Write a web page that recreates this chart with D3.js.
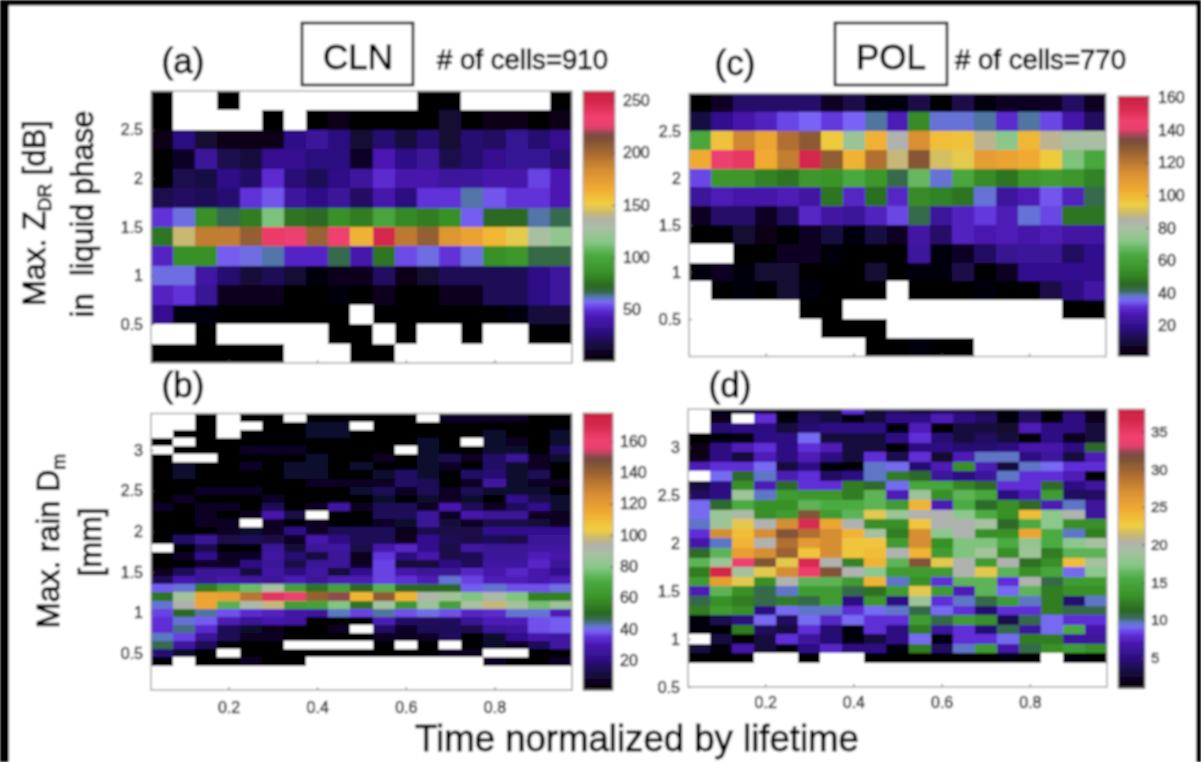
<!DOCTYPE html>
<html lang="en">
<head>
<meta charset="UTF-8">
<title>CLN / POL contoured frequency by lifetime</title>
<script src="https://cdn.jsdelivr.net/npm/d3@7"></script>
<style>
   html, body { margin: 0; padding: 0; background: #fff; }
   svg { display: block; }
   text { font-family: "Liberation Sans", Arial, sans-serif; white-space: pre; }
</style>
</head>
<body>
<svg id="fig" width="1201" height="762" viewBox="0 0 1201 762"></svg>
<script>
const _ = null;   // empty bin, stays white

const timeTicks = [0.2, 0.4, 0.6, 0.8];
const zdrTicks = [0.5, 1, 1.5, 2, 2.5];
const dmTicks = [0.5, 1, 1.5, 2, 2.5, 3];

const barTicksA = [50, 100, 150, 200, 250];
const barTicksB = [20, 40, 60, 80, 100, 120, 140, 160];
const barTicksC = [20, 40, 60, 80, 100, 120, 140, 160];
const barTicksD = [5, 10, 15, 20, 25, 30, 35];

// colour bar as fraction of its range
const cmapStops = [0, .06, .11, .158, .19, .214, .232, .25, .275, .33, .39, .44, .49, .516, .547, .578, .64, .70, .763, .82, .837, .868, .90, .948, 1];
const cmapColors = ["#000000", "#1a0a45", "#2e0f85", "#4a18b0", "#6030d8", "#7a68f8", "#5a78c0", "#3a6a5a", "#2a6a20", "#3a9428", "#4aaa40", "#88c888", "#a8c0a0", "#b0b0b0", "#c8b870", "#f0d040", "#f0a830", "#d89030", "#ac6c30", "#7a5038", "#804a48", "#e84070", "#f04070", "#d82a50", "#c82040"];

// rows run from the top of each panel downwards, 19 time bins each
const zdrCln = [
   [1,_,_,1,_,_,_,_,_,_,_,_,1,1,_,_,_,_,1],
   [1,_,_,_,_,1,_,1,5,1,1,1,1,12,1,5,5,1,5],
   [6,28,12,5,5,5,30,35,28,12,25,15,25,12,25,22,33,25,32],
   [1,10,35,18,15,32,32,28,28,10,42,30,35,18,25,32,33,33,26],
   [1,18,16,30,23,48,26,20,30,36,48,40,40,36,36,40,40,52,42],
   [18,22,20,25,50,54,36,30,35,22,40,28,50,50,62,54,50,50,42],
   [50,58,85,67,78,112,75,72,85,78,98,82,78,85,55,72,72,62,67],
   [76,142,190,190,205,236,228,203,232,162,248,192,205,178,170,160,148,128,118],
   [46,85,85,55,58,62,46,46,67,40,76,53,58,50,58,85,88,68,68],
   [58,58,38,25,14,20,12,4,8,8,22,5,12,20,20,20,20,30,36],
   [45,50,34,8,8,8,1,1,4,1,8,1,1,8,8,20,20,30,36],
   [32,4,4,1,1,1,1,1,1,_,1,1,1,1,1,1,4,15,15],
   [_,_,1,_,_,_,_,_,1,1,_,1,_,_,1,_,_,1,1],
   [1,1,1,1,1,1,_,_,_,1,1,_,_,_,_,_,_,_,_]
];

const zdrPol = [
   [1,6,15,15,15,15,6,11,3,3,11,1,11,3,6,6,6,14,6],
   [10,20,25,28,33,35,32,35,39,27,52,37,37,39,30,39,33,25,14],
   [62,97,115,105,122,129,95,76,101,83,113,98,97,86,72,100,86,80,80],
   [103,142,148,103,118,154,128,101,122,88,130,90,92,108,106,103,95,70,62],
   [33,55,55,50,47,55,54,63,55,42,67,37,62,52,47,55,58,55,50],
   [22,27,25,25,27,24,47,29,46,29,52,50,47,37,23,27,34,28,42],
   [6,15,15,6,14,29,24,22,28,33,42,23,28,32,27,37,33,47,47],
   [1,1,8,4,1,6,10,3,10,6,24,15,28,26,27,25,27,24,24],
   [_,_,1,1,6,6,3,1,1,1,23,3,6,14,21,22,22,14,20],
   [2,6,3,8,8,1,1,1,8,1,3,3,11,1,6,20,20,20,20],
   [_,1,3,1,8,3,1,1,1,_,1,1,1,3,1,1,11,18,24],
   [_,_,_,_,_,1,1,_,_,_,_,_,_,_,_,_,_,1,1],
   [_,_,_,_,_,_,1,1,1,_,_,_,_,_,_,_,_,_,_],
   [_,_,_,_,_,_,_,_,1,1,3,1,1,_,_,_,_,_,_]
];

const dmCln = [
   [_,_,1,_,1,1,_,1,1,1,1,1,_,7,7,7,7,1,1],
   [_,_,1,_,_,1,1,8,8,_,1,1,1,1,1,1,1,1,1],
   [_,1,1,_,1,1,1,8,8,1,1,1,1,1,1,8,1,1,8],
   [1,_,1,1,1,1,1,1,1,1,1,1,8,1,_,8,6,1,8],
   [_,1,1,1,7,7,7,1,1,1,1,_,8,1,1,8,8,1,16],
   [1,_,_,1,1,1,1,8,1,1,6,1,8,13,6,16,24,6,8],
   [1,8,1,1,7,1,8,8,1,8,1,1,8,7,1,16,8,6,1],
   [1,8,1,1,1,1,8,8,1,1,8,16,8,1,16,18,8,14,1],
   [1,1,1,1,1,1,1,6,6,6,6,16,14,1,6,26,8,6,6],
   [1,1,7,7,7,1,1,1,1,8,14,6,14,6,14,8,8,8,1],
   [1,6,1,1,1,7,1,1,1,1,8,1,8,6,8,1,22,12,8],
   [7,1,6,6,1,14,1,6,26,6,14,14,6,28,14,6,14,22,8],
   [1,1,6,1,5,28,12,_,1,1,14,14,24,6,28,24,24,6,6],
   [1,1,6,6,_,6,1,7,1,1,7,8,24,10,6,12,12,10,6],
   [1,1,1,6,8,6,20,6,14,14,14,5,12,12,12,22,22,22,22],
   [1,16,24,12,14,12,6,28,20,14,14,5,22,14,12,14,12,24,24],
   [_,1,12,1,1,24,10,24,26,12,28,32,22,12,26,24,24,26,26],
   [1,6,22,6,7,26,18,10,24,5,35,20,28,12,14,24,24,30,28],
   [1,1,6,6,20,24,12,24,24,6,36,10,10,20,14,26,26,32,24],
   [5,14,24,24,10,26,20,26,10,22,36,28,24,24,32,28,32,28,22],
   [14,28,24,28,26,24,30,24,30,30,36,34,30,41,36,30,30,28,30],
   [38,41,54,66,75,88,66,52,66,50,72,50,50,50,38,41,37,37,40],
   [52,86,116,118,133,165,158,140,150,111,142,111,90,86,78,90,78,55,55],
   [41,92,116,72,90,97,64,66,78,52,86,62,84,66,88,97,86,76,84],
   [36,50,43,37,33,31,27,25,42,36,43,37,40,37,32,33,41,41,30],
   [34,41,38,30,24,28,26,1,1,1,30,16,15,15,24,30,30,37,38],
   [34,44,33,14,8,5,1,1,6,_,16,7,14,14,12,24,26,37,38],
   [42,36,24,14,6,6,1,1,1,1,6,7,6,15,1,8,22,28,26],
   [46,26,14,1,1,1,_,_,_,_,1,_,1,_,1,8,7,14,26],
   [18,8,1,_,1,1,1,1,1,1,1,1,1,6,6,_,_,1,1],
   [1,_,1,1,6,1,1,_,_,_,_,_,_,_,_,6,1,1,7]
];

const dmPol = [
   [_,1.5,2.5,3,1.5,3,3,8,3,4,3,4,4,3,1.5,4,1,4,2],
   [_,2,_,8,1.5,4,3,1.5,3,5,5,7,5,4,1.5,4,1,5,2],
   [_,4.5,5,5,3,4.5,5,5,5,1.5,7,1,3,3,2.5,7,5,5,3],
   [1,1.5,1.5,5,5,9,3,3,3,5,8,4.5,3,4,3,1,5,2,3],
   [1.7,5,7,8,5,8,7,3,3,1,5,5,4.5,4.5,5,6.5,6.5,5,11],
   [1.7,5,3,7,5,7,5,3,8,3.5,8,2.5,7,9.5,9.5,5,6,3,7],
   [7,8,8,9,3,5,1,1,9.5,9,4.5,7,13,7,3,9.5,9,8,8],
   [_,9,11,9.5,7,8,4,5,9.5,12,11,6,5,6,9.5,8,8,7,1],
   [3,5,13,7,11,8,8,12,11,9,15,15,12.5,11,8,8,11,5,6],
   [4,5,18.5,9.5,14,13.5,13.5,12,16,7,18.5,13,16,15,5,7,14,4,4],
   [9,11,15.5,13,13,16,15.5,15.5,16,14,24,7,15.5,11,13,11,7,9.5,6],
   [9,18.5,19.5,13,14,31,14,16,22,18.5,20,20,17.5,15.5,13,23.5,17.5,20,6],
   [9.5,18.5,22,20,27,36,25,20,13,13,23,20,20,19,11,15.5,17.5,13,13],
   [8,27,23.5,27,31,29,27,24,19,12,27,17.5,20,13,13,25,15.5,9.5,12],
   [6.5,9.5,24,20,29,26,27,23,23,14,27,13,17,17,15.5,18,15.5,17.5,19],
   [11,16,25.5,27,30,23,27,23,23.5,20,24,14,17,19,13,18.5,12,16,16],
   [16,18.5,33.5,31,22,36,20,12.5,24,16,31,22,20,14,20,11.5,13,23.5,19],
   [12,36.5,19,22,27,34.5,31,20,17.5,14,14,14,20,22,16,13,15,9,17.5],
   [14,25.5,22,13,20,16,16,14,24,9.5,13,8,16,16,8,20,10.5,14,14],
   [7,16,13,10.5,9.5,14,14,10.5,11.5,14,22,14,7,16,9,16,12,13,13],
   [10.5,13,12,10.5,12,10.5,14,5,13.5,5,18.5,8,9.5,10.5,14,9.5,12,4.5,9.5],
   [12,14,13,5,9,9.5,9.5,8,9,9.5,10.5,9,8,4.5,8,8,12,10.5,10.5],
   [1.5,3.5,5,9,4,9,7.5,9,8,8,14,10.5,14,13,3.5,10.5,9,8,8],
   [1.5,1,12,4,3,8,4.5,1.5,8,5,12,6,8,4.5,10.5,6,9,15.5,6.5],
   [_,3,1,3,8,6,4.5,1.5,3,5,9,1.5,8,8,9,12,12,6,6],
   [3,1.5,6.5,3,1.5,5,7.5,5,5,1.5,12,4,9.5,14,6.5,10.5,13,14,13],
   [1,1,1,_,_,1,_,_,1,1,1,1,1,1,1.5,1,_,1.5,1]
];

const timeStart = 0.025, timeStep = 0.05, timeEnd = 0.975;

const svg = d3.select("#fig");

const defs = svg.append("defs");
defs.append("filter").attr("id", "soft")
   .attr("x", 0).attr("y", 0).attr("width", 1).attr("height", 1)
   .attr("filterUnits", "objectBoundingBox")
   .append("feGaussianBlur").attr("stdDeviation", 0.8);

const root = svg.append("g").attr("filter", "url(#soft)");
root.append("rect").attr("width", 1201).attr("height", 762).attr("fill", "#fff");

function tickText(sel, size) {
   sel.attr("fill", "#303030").attr("stroke", "#303030").attr("stroke-width", 0.6)
      .style("font-size", size + "px");
}

function drawPanel(p) {
   const x = d3.scaleLinear([timeStart, timeEnd], [p.left, p.right]);
   const y = d3.scaleLinear(p.yDomain, [p.bottom, p.top]).clamp(true);
   const color = d3.scaleLinear()
      .domain(cmapStops.map(t => p.range[0] + t * (p.range[1] - p.range[0])))
      .range(cmapColors);

   const g = root.append("g");

   const cells = [];
   p.rows.forEach((row, i) => row.forEach((v, j) => {
      if (v !== null) cells.push({ row: i, col: j, v: v });
   }));

   g.selectAll("rect.cell").data(cells).join("rect")
      .attr("class", "cell")
      .attr("shape-rendering", "crispEdges")
      .attr("x", d => x(timeStart + d.col * timeStep))
      .attr("width", d => x(timeStart + (d.col + 1) * timeStep) - x(timeStart + d.col * timeStep))
      .attr("y", d => y(p.rowTop - d.row * p.rowStep))
      .attr("height", d => y(p.rowTop - (d.row + 1) * p.rowStep) - y(p.rowTop - d.row * p.rowStep))
      .attr("fill", d => color(d.v));

   g.append("rect")
      .attr("x", p.left).attr("y", p.top)
      .attr("width", p.right - p.left).attr("height", p.bottom - p.top)
      .attr("fill", "none").attr("stroke", "#a8a8a8").attr("stroke-width", 1.5);

   const xAxis = d3.axisBottom(x).tickValues(timeTicks).tickSize(-3).tickPadding(p.timePad || 0)
      .tickFormat(p.timePad ? d3.format(".1f") : "");
   const yAxis = d3.axisLeft(y).tickValues(p.yTicks).tickSize(-3).tickPadding(p.yPad)
      .tickFormat(d => String(d));

   [
      g.append("g").attr("transform", `translate(0,${p.bottom})`).call(xAxis),
      g.append("g").attr("transform", `translate(${p.left},0)`).call(yAxis)
   ].forEach(a => {
      a.select(".domain").remove();
      a.selectAll("line").attr("stroke", "#666");
      tickText(a.selectAll("text"), 16);
   });

   // colour bar
   const b = p.bar;
   const by = d3.scaleLinear(p.range, [b.bottom, b.top]);
   const steps = d3.range(p.range[0], p.range[1], (p.range[1] - p.range[0]) / 120);
   const bg = root.append("g");
   bg.selectAll("rect").data(steps).join("rect")
      .attr("shape-rendering", "crispEdges")
      .attr("x", b.left).attr("width", b.right - b.left)
      .attr("y", d => by(d) - (b.bottom - b.top) / 120 - 0.5)
      .attr("height", (b.bottom - b.top) / 120 + 1)
      .attr("fill", d => color(d));
   bg.append("rect")
      .attr("x", b.left).attr("y", b.top)
      .attr("width", b.right - b.left).attr("height", b.bottom - b.top)
      .attr("fill", "none").attr("stroke", "#a8a8a8").attr("stroke-width", 1.2);

   const barAxis = d3.axisRight(by).tickValues(p.barTicks).tickSize(-3).tickPadding(b.pad);
   const ba = bg.append("g").attr("transform", `translate(${b.right},0)`).call(barAxis);
   ba.select(".domain").remove();
   ba.selectAll("line").attr("stroke", "#555");
   tickText(ba.selectAll("text"), b.size);
}

drawPanel({
   rows: zdrCln, rowTop: 2.9, rowStep: 0.2, yDomain: [0.1, 2.9], yTicks: zdrTicks, yPad: 8,
   left: 151, right: 572, top: 91, bottom: 363, timePad: 0, range: [1, 259], barTicks: barTicksA,
   bar: { left: 583, right: 615, top: 91, bottom: 361, pad: 8, size: 16 }
});
drawPanel({
   rows: dmCln, rowTop: 3.45, rowStep: 0.1, yDomain: [0.05, 3.45], yTicks: dmTicks, yPad: 8,
   left: 151, right: 572, top: 413.5, bottom: 690, timePad: 12, range: [1, 178], barTicks: barTicksB,
   bar: { left: 583, right: 613, top: 413, bottom: 690, pad: 7, size: 16 }
});
drawPanel({
   rows: zdrPol, rowTop: 2.9, rowStep: 0.2, yDomain: [0.1, 2.9], yTicks: zdrTicks, yPad: 8,
   left: 689, right: 1106, top: 93.5, bottom: 356.5, timePad: 0, range: [1, 161], barTicks: barTicksC,
   bar: { left: 1118, right: 1149, top: 96, bottom: 356.5, pad: 9, size: 16 }
});
drawPanel({
   rows: dmPol, rowTop: 3.45, rowStep: 0.1, yDomain: [0.5, 3.4], yTicks: dmTicks, yPad: 8,
   left: 688, right: 1107, top: 409, bottom: 687, timePad: 10, range: [1, 38], barTicks: barTicksD,
   bar: { left: 1118, right: 1145, top: 409, bottom: 688, pad: 6, size: 15 }
});

// panel letters, boxes and counts
function label(txt, px, py, size, anchor) {
   return root.append("text").attr("x", px).attr("y", py)
      .attr("text-anchor", anchor || "middle")
      .attr("fill", "#000").attr("stroke", "#000").attr("stroke-width", 0.9)
      .style("font-size", size + "px").text(txt);
}

label("(a)", 183, 73, 35);
label("(c)", 735, 75, 35);
label("(b)", 183, 397, 35);
label("(d)", 730, 397, 35);

root.append("rect").attr("x", 302).attr("y", 23).attr("width", 111).attr("height", 62)
   .attr("fill", "none").attr("stroke", "#000").attr("stroke-width", 2.6);
root.append("rect").attr("x", 835).attr("y", 23).attr("width", 112).attr("height", 62)
   .attr("fill", "none").attr("stroke", "#000").attr("stroke-width", 2.6);
label("CLN", 358, 69, 35);
label("POL", 891, 69, 35);
label("# of cells=910", 437, 69, 27.6, "start");
label("# of cells=770", 955, 69, 27.6, "start");

label("Time normalized by lifetime", 637, 751, 36.6);

// rotated axis titles
function yTitle(px, py, parts) {
   const t = root.append("text")
      .attr("transform", `translate(${px},${py}) rotate(-90)`)
      .attr("text-anchor", "middle")
      .attr("fill", "#000").attr("stroke", "#000").attr("stroke-width", 0.9)
      .style("font-size", "31px");
   parts.forEach(s => {
      const ts = t.append("tspan").text(s.t);
      if (s.sub) ts.style("font-size", "19px").attr("dy", 6);
      if (s.back) ts.attr("dy", -6);
   });
}

yTitle(45, 213, [{ t: "Max. Z" }, { t: "DR", sub: true }, { t: " [dB]", back: true }]);
yTitle(93, 214, [{ t: "in  liquid phase" }]);
yTitle(59, 541, [{ t: "Max. rain D" }, { t: "m", sub: true }]);
yTitle(101, 542, [{ t: "[mm]" }]);

// black border left by the original screenshot
root.append("rect").attr("x", 0).attr("y", 0).attr("width", 1201).attr("height", 5.5).attr("fill", "#000");
root.append("rect").attr("x", 0).attr("y", 0).attr("width", 9).attr("height", 762).attr("fill", "#000");
root.append("rect").attr("x", 1196).attr("y", 0).attr("width", 5).attr("height", 762).attr("fill", "#000");
</script>
</body>
</html>
